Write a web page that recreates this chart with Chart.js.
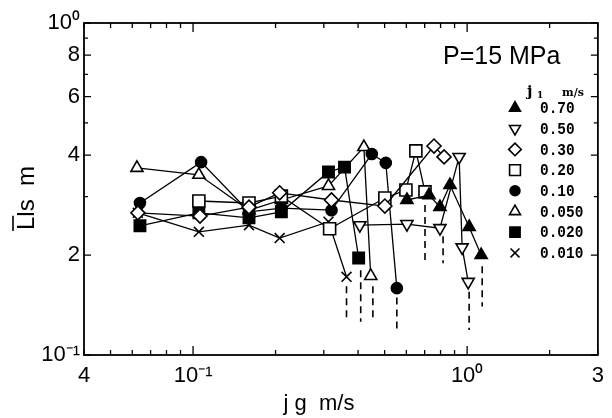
<!DOCTYPE html>
<html>
<head>
<meta charset="utf-8">
<script src="https://cdn.jsdelivr.net/npm/chart.js@4.4.0/dist/chart.umd.min.js"></script>
<style>
  html, body { margin: 0; padding: 0; background: #fff; }
</style>
</head>
<body>
<canvas id="chart" width="612" height="418"></canvas>
<script>
// jl series labels (m/s), in legend order
const seriesLabels = ['0.70', '0.50', '0.30', '0.20', '0.10', '0.050', '0.020', '0.010'];

// jg (m/s) and L_ls (m), one pair per jl
const jg_070 = [0.603, 0.726, 0.796, 0.866, 1.017, 1.125];
const L_070  = [0.293, 0.303, 0.279, 0.325, 0.243, 0.200];

const jg_050 = [0.406, 0.603, 0.796, 0.935, 0.959, 1.009];
const L_050  = [0.246, 0.248, 0.241, 0.395, 0.211, 0.166];

const jg_030 = [0.0629, 0.106, 0.160, 0.207, 0.320, 0.501, 0.757, 0.824];
const L_030  = [0.268, 0.262, 0.279, 0.308, 0.293, 0.281, 0.426, 0.395];

const jg_020 = [0.105, 0.160, 0.210, 0.315, 0.501, 0.598, 0.650, 0.702];
const L_020  = [0.291, 0.287, 0.301, 0.240, 0.297, 0.314, 0.412, 0.310];

const jg_010 = [0.064, 0.107, 0.160, 0.210, 0.320, 0.449, 0.505, 0.554];
const L_010  = [0.287, 0.381, 0.270, 0.277, 0.273, 0.403, 0.379, 0.159];

const jg_0050 = [0.0624, 0.105, 0.160, 0.210, 0.312, 0.420, 0.445];
const L_0050  = [0.366, 0.349, 0.273, 0.293, 0.323, 0.423, 0.173];

const jg_0020 = [0.064, 0.105, 0.160, 0.210, 0.312, 0.357, 0.402];
const L_0020  = [0.245, 0.268, 0.259, 0.270, 0.356, 0.368, 0.196];

const jg_0010 = [0.0629, 0.105, 0.160, 0.207, 0.312, 0.363];
const L_0010  = [0.268, 0.235, 0.246, 0.225, 0.252, 0.172];

// dashed drop lines under the last points
const dropJg  = [0.363, 0.409, 0.453, 0.554, 0.702, 0.817, 1.017, 1.135];
const dropTop = [0.161, 0.180, 0.161, 0.149, 0.283, 0.228, 0.155, 0.185];
const dropBot = [0.129, 0.126, 0.126, 0.117, 0.189, 0.189, 0.119, 0.140];

// axis ticks
const xTickVals  = [0.04, 0.05, 0.06, 0.07, 0.08, 0.09, 0.1, 0.2, 0.3, 0.4, 0.5, 0.6, 0.7, 0.8, 0.9, 1, 2, 3];
const xLabelVals = [0.04, 0.1, 1, 3];
const xLabelText = ['4', '10\u207B\u00B9', '10\u2070', '3'];
const yTickVals  = [0.1, 0.2, 0.3, 0.4, 0.5, 0.6, 0.7, 0.8, 0.9, 1];
const yLabelVals = [0.1, 0.2, 0.4, 0.6, 0.8, 1];
const yLabelText = ['10\u207B\u00B9', '2', '4', '6', '8', '10\u2070'];

const xs = [jg_070, jg_050, jg_030, jg_020, jg_010, jg_0050, jg_0020, jg_0010];
const ys = [L_070, L_050, L_030, L_020, L_010, L_0050, L_0020, L_0010];

// marker per series
const markers = [
    { pointStyle: 'triangle', rotation: 0,   radius: 7,   fill: true  },
    { pointStyle: 'triangle', rotation: 180, radius: 7,   fill: false },
    { pointStyle: 'rectRot',  rotation: 0,   radius: 7,   fill: false },
    { pointStyle: 'rect',     rotation: 0,   radius: 8.5, fill: false },
    { pointStyle: 'circle',   rotation: 0,   radius: 5.5, fill: true  },
    { pointStyle: 'triangle', rotation: 0,   radius: 7,   fill: false },
    { pointStyle: 'rect',     rotation: 0,   radius: 8,   fill: true  },
    { pointStyle: 'crossRot', rotation: 0,   radius: 7,   fill: false }
];

const datasets = [];
dropJg.forEach((x, i) => {
    datasets.push({
        label: 'drop',
        data: [{ x, y: dropTop[i] }, { x, y: dropBot[i] }],
        showLine: true,
        borderColor: '#000',
        borderWidth: 1.6,
        borderDash: [7, 5],
        pointRadius: 0
    });
});
seriesLabels.forEach((lab, i) => {
    const m = markers[i];
    datasets.push({
        label: lab,
        data: xs[i].map((x, k) => ({ x, y: ys[i][k] })),
        showLine: true,
        borderColor: '#000',
        borderWidth: 1.3,
        pointStyle: m.pointStyle,
        pointRotation: m.rotation,
        pointRadius: m.radius,
        pointBorderWidth: 1.6,
        pointBorderColor: '#000',
        pointBackgroundColor: m.fill ? '#000' : '#fff'
    });
});

const font = 'Liberation Sans, Arial, sans-serif';

// frame, inward ticks, axis titles, annotation, legend
const decor = {
    id: 'decor',
    afterDraw(chart) {
        const { ctx, chartArea: a, scales: { x, y } } = chart;
        ctx.save();
        ctx.strokeStyle = '#000';
        ctx.fillStyle = '#000';
        ctx.lineWidth = 1.8;
        ctx.strokeRect(a.left, a.top, a.right - a.left, a.bottom - a.top);

        ctx.lineWidth = 1.3;
        ctx.beginPath();
        xTickVals.forEach(v => {
            const px = x.getPixelForValue(v);
            const len = (v === 0.1 || v === 1) ? 9 : 5;
            ctx.moveTo(px, a.bottom); ctx.lineTo(px, a.bottom - len);
            ctx.moveTo(px, a.top);    ctx.lineTo(px, a.top + len);
        });
        yTickVals.forEach(v => {
            const py = y.getPixelForValue(v);
            const len = yLabelVals.includes(v) ? 7 : 4;
            ctx.moveTo(a.left, py);  ctx.lineTo(a.left + len, py);
            ctx.moveTo(a.right, py); ctx.lineTo(a.right - len, py);
        });
        ctx.stroke();

        // x title
        ctx.font = '22px ' + font;
        ctx.textAlign = 'center';
        ctx.textBaseline = 'alphabetic';
        ctx.fillText('j g  m/s', 319, 410);

        // y title with overbar on L
        ctx.save();
        ctx.translate(27, 198);
        ctx.rotate(-Math.PI / 2);
        ctx.font = '24px ' + font;
        ctx.textAlign = 'left';
        ctx.textBaseline = 'middle';
        const txt = 'Lls  m';
        const w = ctx.measureText(txt).width;
        const wL = ctx.measureText('L').width;
        ctx.fillText(txt, -w / 2, 0);
        ctx.lineWidth = 1.6;
        ctx.beginPath();
        ctx.moveTo(-w / 2 - 1, -14);
        ctx.lineTo(-w / 2 + wL + 1, -14);
        ctx.stroke();
        ctx.restore();

        // annotation
        ctx.font = '25px ' + font;
        ctx.textAlign = 'left';
        ctx.textBaseline = 'alphabetic';
        ctx.fillText('P=15 MPa', 443, 64);

        // legend header
        ctx.font = 'bold 15px DejaVu Serif, serif';
        ctx.fillText('j', 527, 96);
        ctx.font = 'bold 9px DejaVu Serif, serif';
        ctx.fillText('1', 537, 98);
        ctx.font = 'bold 11px DejaVu Serif, serif';
        ctx.fillText('m/s', 562, 96);

        // legend rows
        seriesLabels.forEach((lab, i) => {
            const m = markers[i];
            const ly = 108 + i * 20.7;
            ctx.lineWidth = 1.6;
            ctx.fillStyle = m.fill ? '#000' : '#fff';
            ctx.strokeStyle = '#000';
            Chart.helpers.drawPoint(ctx, {
                pointStyle: m.pointStyle,
                rotation: m.rotation,
                radius: m.radius * 0.9,
                borderWidth: 1.6
            }, 515, ly);
            ctx.fillStyle = '#000';
            ctx.save();
            ctx.translate(540, ly);
            ctx.scale(0.85, 1);
            ctx.font = 'bold 17px Liberation Mono, monospace';
            ctx.textBaseline = 'middle';
            ctx.fillText(lab, 0, 1);
            ctx.restore();
        });
        ctx.restore();
    }
};

new Chart(document.getElementById('chart').getContext('2d'), {
    type: 'scatter',
    data: { datasets },
    options: {
        responsive: false,
        animation: false,
        devicePixelRatio: 1,
        layout: { padding: { left: 0, right: 14, top: 23, bottom: 0 } },
        plugins: {
            legend: { display: false },
            tooltip: { enabled: false }
        },
        scales: {
            x: {
                type: 'logarithmic',
                min: 0.04,
                max: 3,
                grid: { display: false, drawTicks: false },
                border: { display: false },
                afterBuildTicks: s => { s.ticks = xLabelVals.map(v => ({ value: v })); },
                afterFit: s => { s.height = 63; },
                ticks: {
                    autoSkip: false,
                    maxRotation: 0,
                    padding: 8,
                    color: '#000',
                    font: { family: font, size: 22 },
                    callback: v => xLabelText[xLabelVals.indexOf(v)]
                }
            },
            y: {
                type: 'logarithmic',
                min: 0.1,
                max: 1,
                grid: { display: false, drawTicks: false },
                border: { display: false },
                afterBuildTicks: s => { s.ticks = yLabelVals.map(v => ({ value: v })); },
                afterFit: s => { s.width = 84; },
                ticks: {
                    autoSkip: false,
                    padding: 4,
                    color: '#000',
                    font: { family: font, size: 22 },
                    callback: v => yLabelText[yLabelVals.indexOf(v)]
                }
            }
        }
    },
    plugins: [decor]
});
</script>
</body>
</html>
